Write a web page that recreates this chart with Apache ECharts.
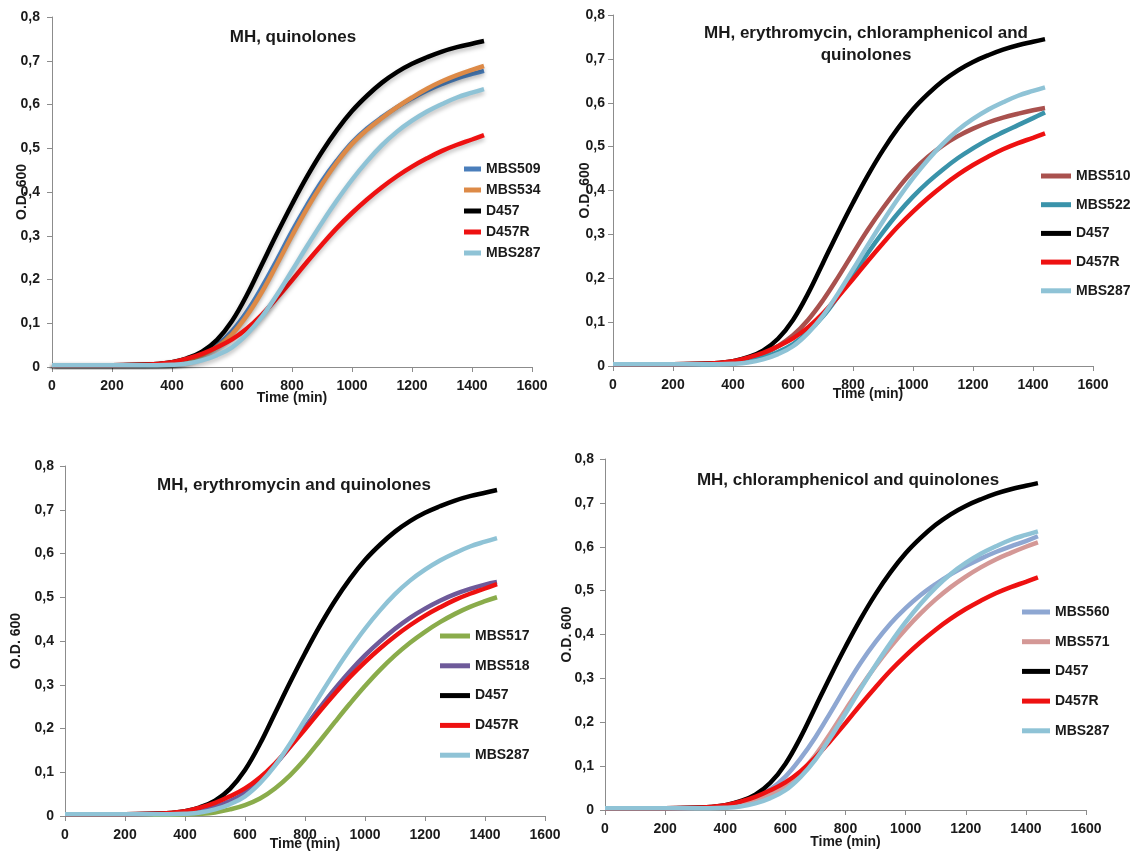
<!DOCTYPE html>
<html>
<head>
    <meta charset="utf-8">
    <title>Growth curves</title>
    <script src="https://cdn.jsdelivr.net/npm/echarts@6/dist/echarts.min.js"></script>
    <style>
        html, body { margin: 0; padding: 0; background: #fff; }
        #main { width: 1140px; height: 856px; }
    </style>
</head>
<body>
<div id="main"></div>
<script type="text/javascript">

    // sampling times (min), shared by every strain
    var times = [0, 100, 200, 300, 350, 400, 450, 500, 550, 600, 650, 700, 750, 800, 850,
        900, 950, 1000, 1050, 1100, 1150, 1200, 1250, 1300, 1350, 1400, 1440];

    // O.D. 600 readings (controls are the same in all four panels)
    var d457   = [0.004, 0.004, 0.004, 0.005, 0.007, 0.011, 0.020, 0.035, 0.062, 0.105, 0.165, 0.235, 0.305, 0.372, 0.435, 0.492, 0.542, 0.585, 0.620, 0.650, 0.674, 0.693, 0.708, 0.721, 0.731, 0.739, 0.745];
    var d457r  = [0.004, 0.004, 0.004, 0.005, 0.007, 0.011, 0.019, 0.030, 0.045, 0.063, 0.088, 0.120, 0.158, 0.198, 0.240, 0.280, 0.318, 0.352, 0.383, 0.411, 0.436, 0.458, 0.477, 0.494, 0.508, 0.520, 0.530];
    var mbs287 = [0.004, 0.004, 0.004, 0.004, 0.004, 0.005, 0.008, 0.015, 0.027, 0.045, 0.075, 0.115, 0.165, 0.220, 0.276, 0.330, 0.381, 0.428, 0.470, 0.507, 0.538, 0.563, 0.584, 0.601, 0.616, 0.627, 0.635];
    var mbs509 = [0.004, 0.004, 0.004, 0.005, 0.006, 0.010, 0.018, 0.031, 0.050, 0.082, 0.127, 0.183, 0.245, 0.310, 0.370, 0.425, 0.472, 0.513, 0.545, 0.571, 0.594, 0.614, 0.632, 0.647, 0.660, 0.670, 0.677];
    var mbs534 = [0.004, 0.004, 0.004, 0.005, 0.006, 0.009, 0.016, 0.028, 0.046, 0.075, 0.118, 0.172, 0.235, 0.300, 0.362, 0.418, 0.468, 0.510, 0.542, 0.569, 0.594, 0.616, 0.636, 0.653, 0.667, 0.679, 0.688];
    var mbs510 = [0.004, 0.004, 0.004, 0.005, 0.006, 0.009, 0.015, 0.027, 0.045, 0.070, 0.105, 0.150, 0.202, 0.257, 0.311, 0.360, 0.405, 0.445, 0.477, 0.503, 0.524, 0.541, 0.555, 0.566, 0.575, 0.583, 0.588];
    var mbs522 = [0.004, 0.004, 0.004, 0.004, 0.005, 0.007, 0.011, 0.019, 0.032, 0.050, 0.077, 0.113, 0.158, 0.207, 0.258, 0.305, 0.348, 0.386, 0.419, 0.448, 0.474, 0.496, 0.516, 0.533, 0.549, 0.565, 0.578];
    var mbs517 = [0.003, 0.003, 0.003, 0.003, 0.003, 0.004, 0.005, 0.008, 0.015, 0.025, 0.040, 0.063, 0.093, 0.130, 0.172, 0.215, 0.257, 0.297, 0.334, 0.367, 0.396, 0.421, 0.443, 0.462, 0.478, 0.491, 0.500];
    var mbs518 = [0.004, 0.004, 0.004, 0.005, 0.006, 0.008, 0.013, 0.021, 0.034, 0.053, 0.081, 0.117, 0.158, 0.203, 0.248, 0.291, 0.331, 0.367, 0.399, 0.428, 0.453, 0.474, 0.492, 0.507, 0.519, 0.529, 0.535];
    var mbs560 = [0.004, 0.004, 0.004, 0.005, 0.006, 0.009, 0.016, 0.028, 0.047, 0.076, 0.117, 0.166, 0.222, 0.280, 0.335, 0.383, 0.425, 0.460, 0.490, 0.515, 0.537, 0.556, 0.573, 0.588, 0.601, 0.613, 0.624];
    var mbs571 = [0.004, 0.004, 0.004, 0.005, 0.006, 0.008, 0.013, 0.021, 0.035, 0.055, 0.085, 0.125, 0.175, 0.228, 0.280, 0.328, 0.372, 0.412, 0.448, 0.480, 0.508, 0.532, 0.553, 0.571, 0.586, 0.600, 0.610];

    var colors = {
        'MBS509': '#4a7ebb', 'MBS534': '#dd8a47', 'D457': '#000000', 'D457R': '#ee1111',
        'MBS287': '#8fc3d6', 'MBS510': '#a9514e', 'MBS522': '#3a93aa', 'MBS517': '#8aac4b',
        'MBS518': '#6e5a9a', 'MBS560': '#8ea7d2', 'MBS571': '#d49896'
    };

    var txt = '#1a1a1a';
    var font = 'Liberation Sans, Arial, sans-serif';

    var panels = [
        {
            title: 'MH, quinolones', cx: 293, ty: 26,
            names: ['MBS509', 'MBS534', 'D457', 'D457R', 'MBS287'],
            values: [mbs509, mbs534, d457, d457r, mbs287],
            grid: {left: 52, top: 17, width: 480, height: 350},
            legend: {left: 464, top: 162, itemWidth: 17, itemGap: 7},
            yGap: 23, xGap: 24, yMargin: 12, xPad: 0, shadow: true
        },
        {
            title: 'MH, erythromycin, chloramphenicol and\nquinolones', cx: 866, ty: 22,
            names: ['MBS510', 'MBS522', 'D457', 'D457R', 'MBS287'],
            values: [mbs510, mbs522, d457, d457r, mbs287],
            grid: {left: 613, top: 15, width: 480, height: 351},
            legend: {left: 1041, top: 169, itemWidth: 30, itemGap: 14.7},
            yGap: 21, xGap: 21, yMargin: 8, xPad: 30, shadow: false
        },
        {
            title: 'MH, erythromycin and quinolones', cx: 294, ty: 474,
            names: ['MBS517', 'MBS518', 'D457', 'D457R', 'MBS287'],
            values: [mbs517, mbs518, d457, d457r, mbs287],
            grid: {left: 65, top: 466, width: 480, height: 350},
            legend: {left: 440, top: 629, itemWidth: 30, itemGap: 15.8},
            yGap: 42, xGap: 21, yMargin: 11, xPad: 0, shadow: false
        },
        {
            title: 'MH, chloramphenicol and quinolones', cx: 848, ty: 469,
            names: ['MBS560', 'MBS571', 'D457', 'D457R', 'MBS287'],
            values: [mbs560, mbs571, d457, d457r, mbs287],
            grid: {left: 605, top: 459, width: 481, height: 351},
            legend: {left: 1022, top: 605, itemWidth: 28, itemGap: 15.7},
            yGap: 31, xGap: 25, yMargin: 11, xPad: 0, shadow: false
        }
    ];

    function pairs(vals) {
        return times.map(function (t, i) { return [t, vals[i]]; });
    }

    var option = {
        backgroundColor: '#fff',
        animation: false,
        title: [], grid: [], xAxis: [], yAxis: [], legend: [], series: []
    };

    panels.forEach(function (p, k) {
        option.title.push({
            text: p.title, left: p.cx, top: p.ty, textAlign: 'center', padding: 0,
            textStyle: {fontFamily: font, fontSize: 17, fontWeight: 'bold', color: txt, lineHeight: 22}
        });
        option.grid.push(p.grid);
        option.xAxis.push({
            gridIndex: k, type: 'value', min: 0, max: 1600, interval: 200,
            name: 'Time (min)', nameLocation: 'middle', nameGap: p.xGap, nameMoveOverlap: false,
            nameTextStyle: {fontFamily: font, fontSize: 14, fontWeight: 'bold', color: txt, padding: [0, 0, 0, p.xPad]},
            axisLine: {show: true, lineStyle: {color: '#8c8c8c', width: 1}},
            axisTick: {show: true, inside: false, length: 5, lineStyle: {color: '#8c8c8c'}},
            axisLabel: {fontFamily: font, fontSize: 14, fontWeight: 'bold', color: txt, margin: 12,
                showMinLabel: true, showMaxLabel: true,
                formatter: function (v) { return String(v); }},
            splitLine: {show: false}
        });
        option.yAxis.push({
            gridIndex: k, type: 'value', min: 0, max: 0.8, interval: 0.1,
            name: 'O.D. 600', nameLocation: 'middle', nameGap: p.yGap, nameMoveOverlap: false,
            nameTextStyle: {fontFamily: font, fontSize: 14, fontWeight: 'bold', color: txt},
            axisLine: {show: true, lineStyle: {color: '#8c8c8c', width: 1}},
            axisTick: {show: true, inside: false, length: 5, lineStyle: {color: '#8c8c8c'}},
            axisLabel: {fontFamily: font, fontSize: 14, fontWeight: 'bold', color: txt, margin: p.yMargin,
                formatter: function (v) { return v === 0 ? '0' : v.toFixed(1).replace('.', ','); }},
            splitLine: {show: false}
        });
        option.legend.push({
            orient: 'vertical', left: p.legend.left, top: p.legend.top, padding: 0,
            itemWidth: p.legend.itemWidth, itemHeight: 5, itemGap: p.legend.itemGap,
            icon: 'rect', data: p.names, selectedMode: false,
            textStyle: {fontFamily: font, fontSize: 14, fontWeight: 'bold', color: txt}
        });
        p.names.forEach(function (n, i) {
            var ls = {color: colors[n], width: 4.5};
            if (p.shadow) {
                ls.shadowColor = 'rgba(0,0,0,0.25)';
                ls.shadowBlur = 4;
                ls.shadowOffsetY = 3;
            }
            option.series.push({
                name: n, type: 'line', xAxisIndex: k, yAxisIndex: k,
                data: pairs(p.values[i]), smooth: 0.4, showSymbol: false, symbol: 'none',
                color: colors[n], lineStyle: ls
            });
        });
    });

    var myChart = echarts.init(document.getElementById('main'));
    myChart.setOption(option);

</script>
</body>
</html>
